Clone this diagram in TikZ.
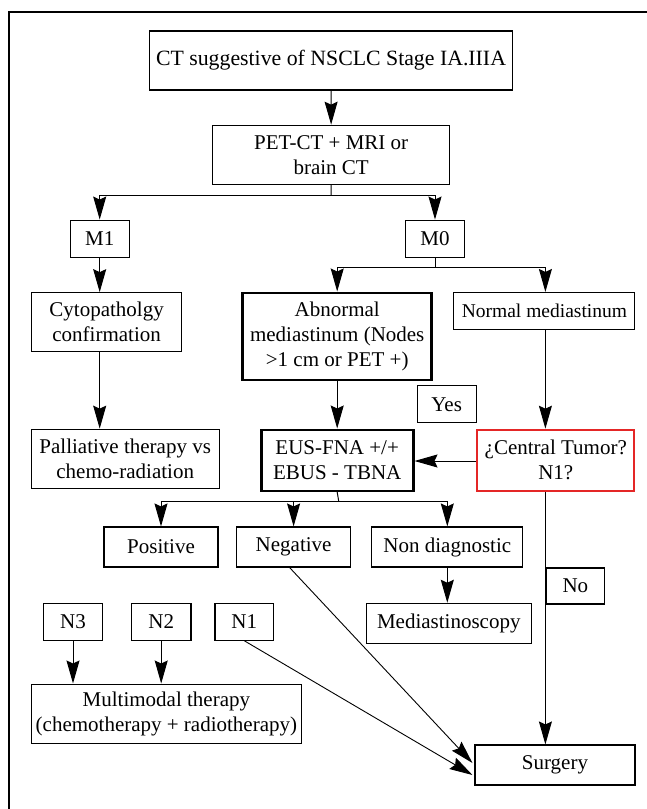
\documentclass[tikz,border=0pt]{standalone}
\usepackage{fontspec}
\setmainfont{Liberation Serif}
\usetikzlibrary{arrows.meta,calc}
\definecolor{boxred}{RGB}{228,38,38}
\begin{document}
\begin{tikzpicture}[x=1pt,y=-1pt,
  every node/.style={font=\fontsize{21}{25}\selectfont},
  bx/.style={draw,line width=1.1pt,align=center,inner sep=0pt,minimum width=#1},
  bx/.default=50pt,
  thick box/.style={line width=2.6pt},
  red box/.style={draw=boxred,line width=2.2pt},
  arr/.style={line width=1pt,-{Stealth[length=23pt,width=13pt,inset=3pt]}},
  ln/.style={line width=1pt}]
\useasboundingbox (0,0) rectangle (647,809);
\draw[line width=1.2pt] (9,809) -- (9,12) -- (647,12);

\node[bx=363pt,minimum height=59pt,font=\fontsize{21.8}{25}\selectfont] (top) at (331,60.5) {CT suggestive of NSCLC Stage IA.IIIA};
\node[bx=237pt,minimum height=59pt] (pet) at (331.2,154.7) {PET-CT + MRI or\\brain CT};
\node[bx=59pt,minimum height=37pt] (m1) at (99.7,238.6) {M1};
\node[bx=59pt,minimum height=37pt] (m0) at (435,238.6) {M0};
\node[bx=150pt,minimum height=59pt] (cyto) at (106.6,322.2) {Cytopatholgy\\confirmation};
\node[bx=189pt,minimum height=87pt,thick box] (abn) at (337.2,336.3) {Abnormal\\mediastinum (Nodes\\>1 cm or PET +)};
\node[bx=181pt,minimum height=37pt,font=\fontsize{19.5}{25}\selectfont] (normal) at (544.4,311) {Normal mediastinum};
\node[bx=188pt,minimum height=59pt] (pall) at (125.2,458.7) {Palliative therapy vs\\chemo-radiation};
\node[bx=59pt,minimum height=37pt] (yes) at (446.7,404.3) {Yes};
\node[bx=152pt,minimum height=61pt,thick box] (eus) at (337.2,460.3) {EUS-FNA +/+\\EBUS - TBNA};
\node[bx=157pt,minimum height=61pt,red box] (central) at (555.8,460.3) {¿Central Tumor?\\N1?};
\node[bx=114pt,minimum height=40pt] (pos) at (161,547) {Positive};
\node[bx=114pt,minimum height=40pt] (neg) at (293.6,547) {Negative};
\node[bx=151pt,minimum height=40pt] (nondiag) at (447.3,547) {Non diagnostic};
\node[bx=58pt,minimum height=36pt] (no) at (575.4,586) {No};
\node[bx=164.5pt,minimum height=40pt] (medi) at (448.8,623.3) {Mediastinoscopy};
\node[bx=59pt,minimum height=37pt] (n3) at (73,621.7) {N3};
\node[bx=59.5pt,minimum height=37pt] (n2) at (161.2,621.7) {N2};
\node[bx=58.7pt,minimum height=37pt] (n1) at (244.3,621.7) {N1};
\node[bx=270.7pt,minimum height=59.3pt] (multi) at (166.4,713.7) {Multimodal therapy\\(chemotherapy + radiotherapy)};
\node[bx=160pt,minimum height=40pt] (surg) at (555,765) {Surgery};

\coordinate (b1) at (331,195);
\coordinate (b2) at (435,267.3);
\coordinate (b3) at (338.8,501.7);

\draw[arr] (top) -- (pet);
\draw[ln] (pet.south) -- (b1);
\draw[arr] (b1) -| (m1.north);
\draw[arr] (b1) -| (m0.north);
\draw[ln] (m0.south) -- (b2);
\draw[arr] (b2) -| (abn.north);
\draw[arr] (b2) -| ($(normal.north)+(1,0)$);
\draw[arr] (m1.south) -- (m1.south |- cyto.north);
\draw[arr] (m1.south |- cyto.south) -- (m1.south |- pall.north);
\draw[arr] (abn) -- (eus);
\draw[arr] ($(normal.south)+(1,0)$) -- ($(normal.south |- central.north)+(1,0)$);
\draw[arr] (central.west |- 0,461) -- (eus.east |- 0,461);
\draw[ln] (eus.south) -- (b3);
\draw[arr] (b3) -| (pos.north);
\draw[arr] (b3) -| (neg.north);
\draw[arr] (b3) -| (nondiag.north);
\draw[arr] (nondiag.south) -- (nondiag.south |- medi.north);
\draw[arr] ($(normal.south |- central.south)+(1,0)$) -- ($(normal.south |- surg.north)+(1,0)$);
\draw[arr] (n3.south) -- (n3.south |- multi.north);
\draw[arr] (n2.south) -- (n2.south |- multi.north);
\draw[arr,line width=0.9pt] (n1.south) -- ($(surg.west)+(-2,10)$);
\draw[arr,line width=0.9pt] ($(neg.south)+(-4,0)$) -- ($(surg.west)+(-2,-2)$);
\end{tikzpicture}
\end{document}
